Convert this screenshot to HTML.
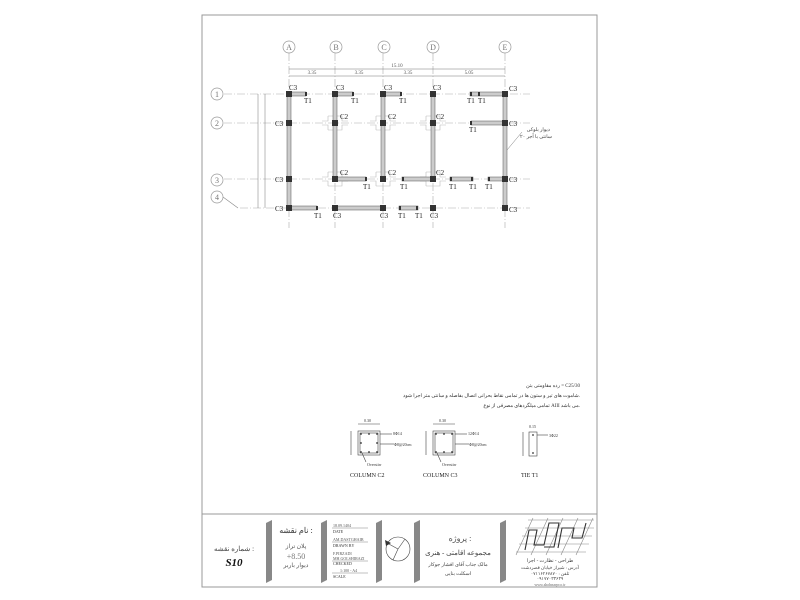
<!DOCTYPE html>
<html><head><meta charset="utf-8"><style>
html,body{margin:0;padding:0;background:#fff;}
svg{display:block;}
text{font-family:"Liberation Serif",serif;fill:#222;}
.s{font-family:"Liberation Sans","DejaVu Sans",sans-serif;}
</style></head><body>
<svg width="800" height="600" viewBox="0 0 800 600" xmlns="http://www.w3.org/2000/svg">
<rect width="800" height="600" fill="#fff"/>
<rect x="202" y="15" width="395" height="572" fill="none" stroke="#999" stroke-width="1"/>
<line x1="202" y1="514" x2="597" y2="514" stroke="#999"/>

<g stroke="#aaa" stroke-width="0.6" stroke-dasharray="8,2,1,2">
<line x1="289" y1="53" x2="289" y2="228"/>
<line x1="335" y1="53" x2="335" y2="228"/>
<line x1="383" y1="53" x2="383" y2="228"/>
<line x1="433" y1="53" x2="433" y2="228"/>
<line x1="505" y1="53" x2="505" y2="228"/>
<line x1="224" y1="94" x2="530" y2="94"/>
<line x1="224" y1="123" x2="530" y2="123"/>
<line x1="224" y1="179" x2="530" y2="179"/>
<line x1="240" y1="208" x2="530" y2="208"/>
</g>
<line x1="223" y1="197" x2="238" y2="208" stroke="#888" stroke-width="0.6"/>
<g fill="#fff" stroke="#999" stroke-width="0.7">
<circle cx="289" cy="47" r="6"/><circle cx="336" cy="47" r="6"/><circle cx="384" cy="47" r="6"/><circle cx="433" cy="47" r="6"/><circle cx="505" cy="47" r="6"/>
<circle cx="217" cy="94" r="6"/><circle cx="217" cy="123" r="6"/><circle cx="217" cy="180" r="6"/><circle cx="217" cy="197" r="6"/>
</g>
<g font-size="8" text-anchor="middle" class="s">
<text x="289" y="50" style="fill:#777">A</text><text x="336" y="50" style="fill:#777">B</text><text x="384" y="50" style="fill:#777">C</text><text x="433" y="50" style="fill:#777">D</text><text x="505" y="50" style="fill:#777">E</text>
<text x="217" y="97" style="fill:#777">1</text><text x="217" y="126" style="fill:#777">2</text><text x="217" y="183" style="fill:#777">3</text><text x="217" y="200" style="fill:#777">4</text>
</g>
<g stroke="#777" stroke-width="0.5">
<line x1="289" y1="69" x2="505" y2="69"/>
<line x1="289" y1="76" x2="505" y2="76"/>
<line x1="265" y1="94" x2="265" y2="208"/>
<line x1="258" y1="94" x2="258" y2="208"/>
</g>
<g font-size="5" text-anchor="middle" class="s">
<text x="397" y="67" style="fill:#555">15.10</text>
<text x="312" y="74" style="fill:#555">3.35</text><text x="359" y="74" style="fill:#555">3.35</text><text x="408" y="74" style="fill:#555">3.35</text><text x="469" y="74" style="fill:#555">5.05</text>
</g>

<g fill="none" stroke="#bbb" stroke-width="0.6">
<path d="M328,116 h14 v5 h6 M328,116 v5 h-6 M328,130 h14 v-5 h6 M328,130 v-5 h-6"/>
<path d="M376,116 h14 v5 h6 M376,116 v5 h-6 M376,130 h14 v-5 h6 M376,130 v-5 h-6"/>
<path d="M426,116 h14 v5 h6 M426,116 v5 h-6 M426,130 h14 v-5 h6 M426,130 v-5 h-6"/>
<path d="M328,172 h14 v5 h6 M328,172 v5 h-6 M328,186 h14 v-5 h6 M328,186 v-5 h-6"/>
<path d="M376,172 h14 v5 h6 M376,172 v5 h-6 M376,186 h14 v-5 h6 M376,186 v-5 h-6"/>
<path d="M426,172 h14 v5 h6 M426,172 v5 h-6 M426,186 h14 v-5 h6 M426,186 v-5 h-6"/>
</g>

<g fill="#ccc" stroke="#555" stroke-width="0.5">
<rect x="287" y="94" width="4" height="114"/>
<rect x="333" y="94" width="4" height="85"/>
<rect x="381" y="94" width="4" height="85"/>
<rect x="431" y="94" width="4" height="85"/>
<rect x="503" y="94" width="4" height="114"/>
<rect x="289" y="92" width="17" height="4"/>
<rect x="336" y="92" width="17" height="4"/>
<rect x="384" y="92" width="17" height="4"/>
<rect x="470" y="92" width="35" height="4"/>
<rect x="471" y="121" width="34" height="4"/>
<rect x="336" y="177" width="30" height="4"/>
<rect x="402" y="177" width="31" height="4"/>
<rect x="450" y="177" width="23" height="4"/>
<rect x="488" y="177" width="17" height="4"/>
<rect x="289" y="206" width="28" height="4"/>
<rect x="336" y="206" width="47" height="4"/>
<rect x="399" y="206" width="19" height="4"/>
</g>
<g fill="#333">
<rect x="305" y="92" width="2" height="4"/><rect x="352" y="92" width="2" height="4"/><rect x="400" y="92" width="2" height="4"/>
<rect x="470" y="92" width="2" height="4"/><rect x="478" y="92" width="2" height="4"/>
<rect x="470" y="121" width="2" height="4"/>
<rect x="365" y="177" width="2" height="4"/><rect x="402" y="177" width="2" height="4"/>
<rect x="450" y="177" width="2" height="4"/><rect x="471" y="177" width="2" height="4"/><rect x="488" y="177" width="2" height="4"/>
<rect x="316" y="206" width="2" height="4"/><rect x="399" y="206" width="2" height="4"/><rect x="416" y="206" width="2" height="4"/>
</g>
<g fill="#333">
<rect x="286" y="91" width="6" height="6"/><rect x="332" y="91" width="6" height="6"/><rect x="380" y="91" width="6" height="6"/><rect x="430" y="91" width="6" height="6"/><rect x="502" y="91" width="6" height="6"/>
<rect x="286" y="120" width="6" height="6"/><rect x="332" y="120" width="6" height="6"/><rect x="380" y="120" width="6" height="6"/><rect x="430" y="120" width="6" height="6"/><rect x="502" y="120" width="6" height="6"/>
<rect x="286" y="176" width="6" height="6"/><rect x="332" y="176" width="6" height="6"/><rect x="380" y="176" width="6" height="6"/><rect x="430" y="176" width="6" height="6"/><rect x="502" y="176" width="6" height="6"/>
<rect x="286" y="205" width="6" height="6"/><rect x="332" y="205" width="6" height="6"/><rect x="380" y="205" width="6" height="6"/><rect x="430" y="205" width="6" height="6"/><rect x="502" y="205" width="6" height="6"/>
</g>
<g font-size="7">
<text x="289" y="90">C3</text><text x="336" y="90">C3</text><text x="384" y="90">C3</text><text x="433" y="90">C3</text><text x="509" y="91">C3</text>
<text x="304" y="103">T1</text><text x="351" y="103">T1</text><text x="399" y="103">T1</text><text x="467" y="103">T1</text><text x="478" y="103">T1</text>
<text x="275" y="126">C3</text><text x="340" y="119">C2</text><text x="388" y="119">C2</text><text x="436" y="119">C2</text><text x="509" y="126">C3</text>
<text x="469" y="132">T1</text>
<text x="275" y="182">C3</text><text x="340" y="175">C2</text><text x="388" y="175">C2</text><text x="436" y="175">C2</text><text x="509" y="182">C3</text>
<text x="363" y="189">T1</text><text x="400" y="189">T1</text><text x="449" y="189">T1</text><text x="469" y="189">T1</text><text x="485" y="189">T1</text>
<text x="275" y="211">C3</text><text x="314" y="218">T1</text><text x="333" y="218">C3</text><text x="380" y="218">C3</text><text x="398" y="218">T1</text><text x="415" y="218">T1</text><text x="430" y="218">C3</text><text x="509" y="212">C3</text>
</g>
<line x1="507" y1="150" x2="522" y2="132" stroke="#777" stroke-width="0.5"/>
<g font-family="Liberation Sans, Noto Sans CJK SC, sans-serif" font-size="5" text-anchor="end">
<text x="550" y="131" style="fill:#444">دیوار بلوکی</text>
<text x="552" y="138" style="fill:#444">۲۰ سانتی با آجر</text>
</g>

<g font-size="5" text-anchor="end" font-family="Liberation Sans, Noto Sans CJK SC, sans-serif">
<text x="580" y="387" style="fill:#333">رده مقاومتی بتن = C25/30</text>
<text x="580" y="397" style="fill:#333">شاموت های تیر و ستون ها در تمامی نقاط بحرانی اتصال بفاصله و سانتی متر اجرا شود.</text>
<text x="580" y="407" style="fill:#333">تمامی میلگردهای مصرفی از نوع AIII می باشد.</text>
</g>
<g fill="none" stroke="#444" stroke-width="0.6">
<rect x="358" y="431" width="22" height="24"/><rect x="360" y="433" width="18" height="20"/>
<rect x="433" y="431" width="22" height="24"/><rect x="435" y="433" width="18" height="20"/>
<rect x="529" y="432" width="8" height="24"/>
<line x1="358" y1="424" x2="380" y2="424"/><line x1="433" y1="424" x2="455" y2="424"/>
<line x1="351" y1="431" x2="351" y2="455"/><line x1="426" y1="431" x2="426" y2="455"/><line x1="523" y1="432" x2="523" y2="456"/>
<line x1="380" y1="434" x2="392" y2="434"/><line x1="380" y1="444" x2="394" y2="444"/>
<line x1="455" y1="434" x2="467" y2="434"/><line x1="455" y1="444" x2="469" y2="444"/>
<line x1="537" y1="435" x2="548" y2="435"/>
<line x1="362" y1="453" x2="366" y2="462"/><line x1="437" y1="453" x2="441" y2="462"/>
</g>
<g fill="#333">
<circle cx="361" cy="434" r="0.9"/><circle cx="369" cy="434" r="0.9"/><circle cx="377" cy="434" r="0.9"/><circle cx="361" cy="443" r="0.9"/><circle cx="377" cy="443" r="0.9"/><circle cx="361" cy="452" r="0.9"/><circle cx="369" cy="452" r="0.9"/><circle cx="377" cy="452" r="0.9"/>
<circle cx="436" cy="434" r="0.9"/><circle cx="452" cy="434" r="0.9"/><circle cx="436" cy="452" r="0.9"/><circle cx="452" cy="452" r="0.9"/><circle cx="444" cy="434" r="0.9"/><circle cx="444" cy="452" r="0.9"/>
<circle cx="533" cy="435" r="0.9"/><circle cx="533" cy="453" r="0.9"/>
</g>
<g font-size="4" class="s">
<text x="364" y="422" style="fill:#333">0.30</text><text x="439" y="422" style="fill:#333">0.30</text><text x="529" y="428" style="fill:#333">0.15</text>
<text x="393" y="435" style="fill:#333">8Φ14</text><text x="394" y="446" style="fill:#333">Φ8@20cm</text><text x="468" y="435" style="fill:#333">12Φ14</text><text x="469" y="446" style="fill:#333">Φ8@20cm</text>
<text x="549" y="437" style="fill:#333">3Φ22</text><text x="367" y="466" style="fill:#333">Overstirr</text><text x="442" y="466" style="fill:#333">Overstirr</text>
</g>
<g font-size="6">
<text x="350" y="477">COLUMN  C2</text><text x="423" y="477">COLUMN  C3</text><text x="521" y="477">TIE  T1</text>
</g>

<g fill="#888">
<polygon points="266,523 272,520 272,580 266,583"/>
<polygon points="321,523 327,520 327,580 321,583"/>
<polygon points="376,523 382,520 382,580 376,583"/>
<polygon points="414,523 420,520 420,580 414,583"/>
<polygon points="500,523 506,520 506,580 500,583"/>
</g>
<g font-family="Liberation Sans, Noto Sans CJK SC, sans-serif" text-anchor="middle">
<text x="234" y="551" font-size="7" style="fill:#444">شماره نقشه :</text>
<text x="234" y="566" font-size="11" font-style="italic" font-weight="bold" style="fill:#111">S10</text>
<text x="296" y="533" font-size="8" style="fill:#333">نام نقشه :</text>
<text x="296" y="548" font-size="6" style="fill:#555">پلان تراز</text>
<text x="296" y="559" font-size="8" style="fill:#777">+8.50</text>
<text x="296" y="567" font-size="6" style="fill:#555">دیوار باربر</text>
<text x="460" y="541" font-size="8" style="fill:#555">پروژه :</text>
<text x="458" y="555" font-size="7" style="fill:#444">مجموعه اقامتی - هنری</text>
<text x="458" y="566" font-size="5" style="fill:#444">مالک جناب آقای افشار جوکار</text>
<text x="458" y="575" font-size="5" style="fill:#444">اسکلت بنایی</text>
<text x="550" y="562" font-size="5" style="fill:#444">طراحی - نظارت - اجرا</text>
<text x="550" y="569" font-size="4.5" style="fill:#444">آدرس : شیراز خیابان قصردشت</text>
<text x="550" y="575" font-size="4.5" style="fill:#444">تلفن : ۰۷۱۱۶۲۶۷۸۷۰</text>
<text x="550" y="580" font-size="4.5" style="fill:#444">۰۹۱۷۷۰۳۳۶۳۹</text>
<text x="550" y="586" font-size="4" style="fill:#666">www.shohnarpco.ir</text>
</g>
<g font-size="4" class="s">
<text x="333" y="527" style="fill:#555">18.09.1404</text>
<text x="333" y="533" style="fill:#333">DATE</text>
<text x="333" y="541" style="fill:#555">AM.DASTGHAIB</text>
<text x="333" y="547" style="fill:#333">DRAWN BY</text>
<text x="333" y="555" style="fill:#555">F.PIRZADI</text>
<text x="333" y="560" style="fill:#555">MH.GOLSHIRAZI</text>
<text x="333" y="565" style="fill:#333">CHECKED</text>
<text x="340" y="572" style="fill:#555">1:100 - A4</text>
<text x="333" y="578" style="fill:#333">SCALE</text>
</g>
<g stroke="#666" stroke-width="0.4">
<line x1="332" y1="528" x2="368" y2="528"/><line x1="332" y1="542" x2="368" y2="542"/><line x1="332" y1="561" x2="368" y2="561"/><line x1="332" y1="573" x2="368" y2="573"/>
</g>
<g fill="none" stroke="#444" stroke-width="0.6">
<circle cx="398" cy="549" r="12"/>
<line x1="387" y1="543" x2="398" y2="549"/><line x1="398" y1="549" x2="405" y2="539"/><line x1="398" y1="549" x2="393" y2="560"/>
</g>
<polygon points="385,540 391,543 386,546" fill="#333"/>
<g fill="none" stroke="#888" stroke-width="0.6">
<path d="M516,552 L586,552 M519,544 L589,544 M522,536 L592,536 M525,528 L594,528 M528,520 L594,520"/>
<path d="M516,555 L533,518 M531,555 L548,518 M546,555 L563,518 M561,555 L578,518 M576,555 L593,518"/>
</g>
<g fill="none" stroke="#333" stroke-width="1.1">
<path d="M525,550 l4,-20 h8 l-3,15 h10 l5,-22 h10 l-5,24 h-10"/>
<path d="M558,548 l4,-20 h12 l-2,10 h10 l4,-15"/>
</g>
</svg>
</body></html>
